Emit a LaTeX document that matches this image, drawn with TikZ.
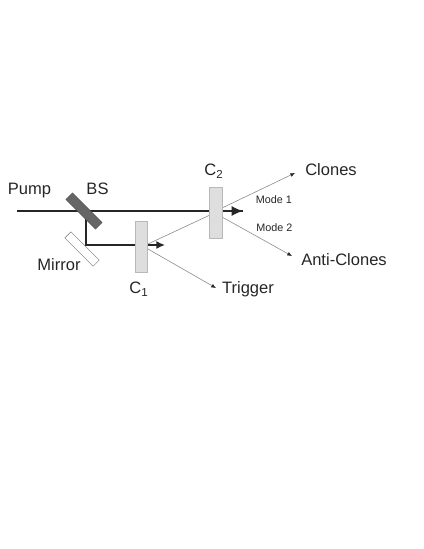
\documentclass[tikz,border=0pt]{standalone}
\usepackage{fontspec}
\setmainfont{Liberation Sans}
\usepackage{xcolor}
\usetikzlibrary{positioning,arrows.meta}
\tikzset{
	pumpbeam/.style={draw=black!85,line width=1.1pt},
	weakbeam/.style={draw=black!45,line width=0.45pt,-{Latex[black!85,length=3.5pt,width=3pt]}},
	crystal/.style={draw=black!28,fill=black!13,line width=0.6pt,minimum width=9.2pt,minimum height=38.3pt,inner sep=0pt},
	lab/.style={text=black!85,font=\fontsize{12.4pt}{14pt}\selectfont,inner sep=0pt},
	modelab/.style={text=black!85,font=\fontsize{8.1pt}{10pt}\selectfont,inner sep=0pt}
}
\begin{document}
\begin{tikzpicture}[x=0.75pt,y=-0.75pt]
		\useasboundingbox (0,0) rectangle (424,549);
		
		\coordinate (in) at (17,211);
		\coordinate (split) at (86,211);
		\coordinate (turn) at (86,245);
		\coordinate (pumpone) at (165,245);
		\coordinate (pumptwo) at (243,211);
		
		\draw[pumpbeam] (in)--(pumptwo);
		\draw[pumpbeam] (split)--(turn)--(135,245);
		\draw[pumpbeam,-{Latex[length=6.5pt,width=6pt]}] (148,245)--(pumpone);
		\draw[pumpbeam,-{Latex[length=8.5pt,width=7.5pt]}] (210,211)--(pumptwo);
		
		\node[rotate=-45,draw=black!70,fill=black!60,line width=0.3pt,minimum width=31.5pt,minimum height=7pt,inner sep=0pt] (bs) at (84,211) {};
		\node[rotate=-45,draw=black!55,fill=white,line width=0.3pt,minimum width=30pt,minimum height=6.5pt,inner sep=0pt] (mirror) at (82,249) {};
		
		\coordinate (idler) at (148,244);
		\coordinate (modeone) at (222,208);
		\coordinate (modetwo) at (222,217);
		\coordinate (seed) at (148,249);
		\coordinate (clonestip) at (295,173);
		\coordinate (antitip) at (292,256);
		\coordinate (triggertip) at (216,288);
		
		\draw[draw=black!45,line width=0.45pt] (idler)--(210,215);
		\draw[weakbeam] (modeone)--(clonestip);
		\draw[weakbeam] (modetwo)--(antitip);
		\draw[weakbeam] (seed)--(triggertip);
		
		\node[crystal] (cone) at (141.5,246.5) {};
		\node[crystal] (ctwo) at (216,212.5) {};
		
		\foreach \pos/\nm/\txt in {{29.5,191}/pump/Pump, {97.5,189}/bslab/BS, {59,265}/mirrorlab/Mirror, {331,170}/clones/Clones, {344,260}/anti/Anti-Clones, {248,289}/trigger/Trigger}
		{
			\node[lab] (\nm) at (\pos) {\txt};
		}
		
		\node[lab] (coneb) at (139,289) {C\textsubscript{1}};
		\node[lab] (ctwob) at (214,171) {C\textsubscript{2}};
		
		\node[modelab] (mone) at (274,199.5) {Mode 1};
		\node[modelab] (mtwo) at (274.5,228) {Mode 2};
		
	\end{tikzpicture}
\end{document}
